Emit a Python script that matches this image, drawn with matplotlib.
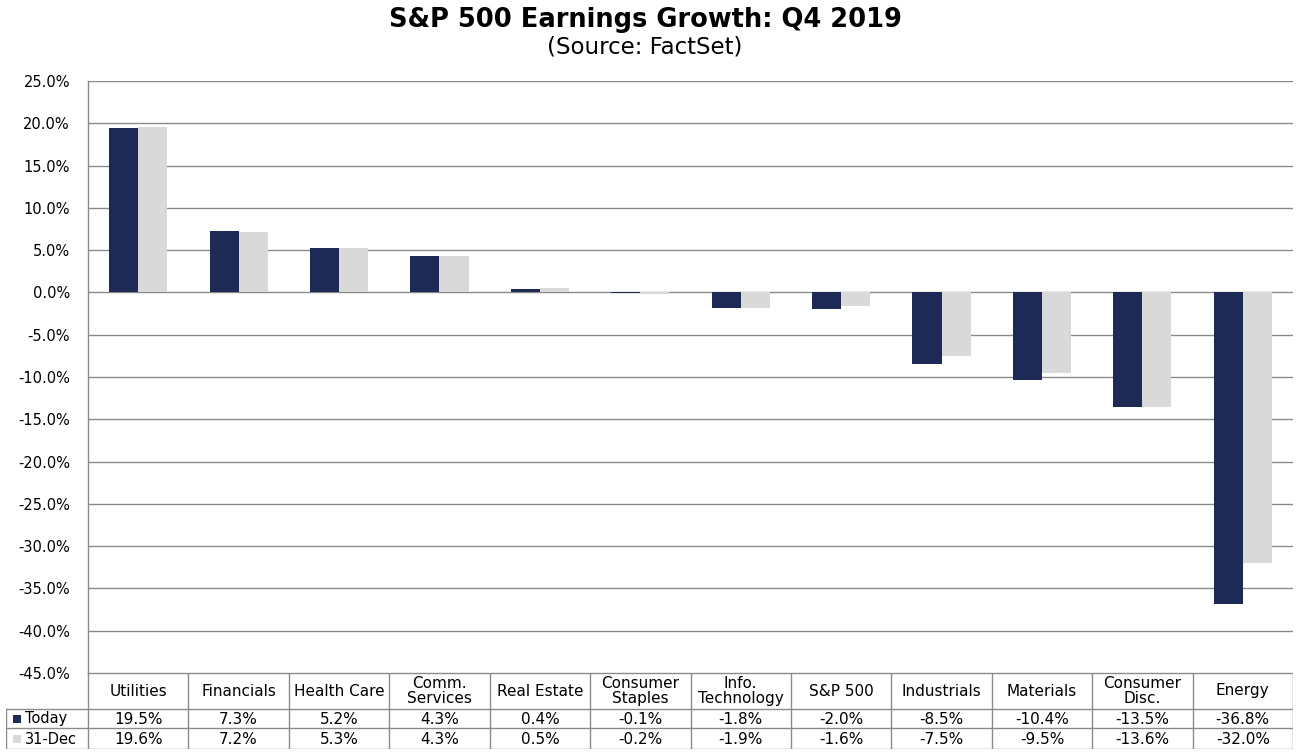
import numpy as np
import matplotlib
matplotlib.use('Agg')
import matplotlib.pyplot as plt
from matplotlib.patches import Rectangle

plt.rcParams['font.family'] = ['DejaVu Sans']

# ─── Data
#
sectors = ['Utilities', 'Financials', 'Health Care', 'Comm.\nServices', 'Real Estate',
           'Consumer\nStaples', 'Info.\nTechnology', 'S&P 500', 'Industrials',
           'Materials', 'Consumer\nDisc.', 'Energy']
today = [19.5, 7.3, 5.2, 4.3, 0.4, -0.1, -1.8, -2.0, -8.5, -10.4, -13.5, -36.8]
dec31 = [19.6, 7.2, 5.3, 4.3, 0.5, -0.2, -1.9, -1.6, -7.5, -9.5, -13.6, -32.0]
series_names = ['Today', '31-Dec']
yticks = np.arange(-45, 30, 5)

DARK = '#1c2a55'
LIGHT = '#d9d9d9'
GRID = '#8a8a8a'

W, H = 1300, 753
fig = plt.figure(figsize=(W / 100, H / 100), dpi=100)

# pixel layout of the plot area
left_px, right_px = 88, 1293
top_px, bot_px = 81, 673
ax = fig.add_axes([left_px / W, 1 - bot_px / H, (right_px - left_px) / W, (bot_px - top_px) / H])

x = np.arange(len(sectors))
bw = 0.29
ax.bar(x - bw / 2, today, bw, color=DARK, zorder=3)
ax.bar(x + bw / 2, dec31, bw, color=LIGHT, zorder=3)

ax.set_xlim(-0.5, len(sectors) - 0.5)
ax.set_ylim(-45, 25)
ax.set_yticks(yticks)
ax.set_yticklabels([f'{v:.1f}%' for v in yticks], fontsize=10.5)
ax.tick_params(axis='y', length=0, pad=13)
ax.set_xticks([])
ax.grid(axis='y', color=GRID, linewidth=1.0, zorder=0)
for s in ['top', 'right', 'bottom']:
    ax.spines[s].set_visible(False)
ax.spines['left'].set_color(GRID)
ax.spines['left'].set_linewidth(1.0)

# ─── Data table below the plot
#
tab_left, tab_bot = 6, 749
tax = fig.add_axes([tab_left / W, 1 - tab_bot / H, (right_px - tab_left) / W, (tab_bot - bot_px) / H])
colw = (right_px - left_px) / len(sectors)
label_w = (left_px - tab_left) / colw
tax.set_xlim(-0.5 - label_w, len(sectors) - 0.5)
tax.set_ylim(tab_bot - bot_px, 0)   # pixel rows, top = 0
tax.axis('off')

row_edges = [0, 36, 55, 76]
lw = 1.0
xl = -0.5 - label_w
xr = len(sectors) - 0.5
# horizontal lines
tax.plot([-0.5, xr], [0, 0], color=GRID, lw=lw)
for yy in row_edges[1:]:
    tax.plot([xl, xr], [yy, yy], color=GRID, lw=lw)
# vertical lines
for i in range(len(sectors) + 1):
    tax.plot([i - 0.5, i - 0.5], [0, 76], color=GRID, lw=lw)
tax.plot([xl, xl], [row_edges[1], 76], color=GRID, lw=lw)

for i, name in enumerate(sectors):
    tax.text(i, (row_edges[0] + row_edges[1]) / 2, name, ha='center', va='center',
             fontsize=11, linespacing=0.95)

px = 1 / colw  # one pixel in table x units
for r, (vals, name, col) in enumerate(zip([today, dec31], series_names, [DARK, LIGHT])):
    yc = (row_edges[r + 1] + row_edges[r + 2]) / 2 + 0.5
    for i, v in enumerate(vals):
        tax.text(i, yc, f'{v:.1f}%', ha='center', va='center', fontsize=11)
    tax.add_patch(Rectangle((xl + 7 * px, yc - 4), 8 * px, 8, color=col, lw=0))
    tax.text(xl + 19 * px, yc, name, ha='left', va='center', fontsize=10.5)

# ─── Titles
#
fig.text(645 / W, 1 - 20 / H, 'S&P 500 Earnings Growth: Q4 2019', ha='center', va='center',
         fontsize=18.5, fontweight='bold')
fig.text(645 / W, 1 - 47 / H, '(Source: FactSet)', ha='center', va='center', fontsize=16.5)

fig.savefig('out.png', dpi=100)
